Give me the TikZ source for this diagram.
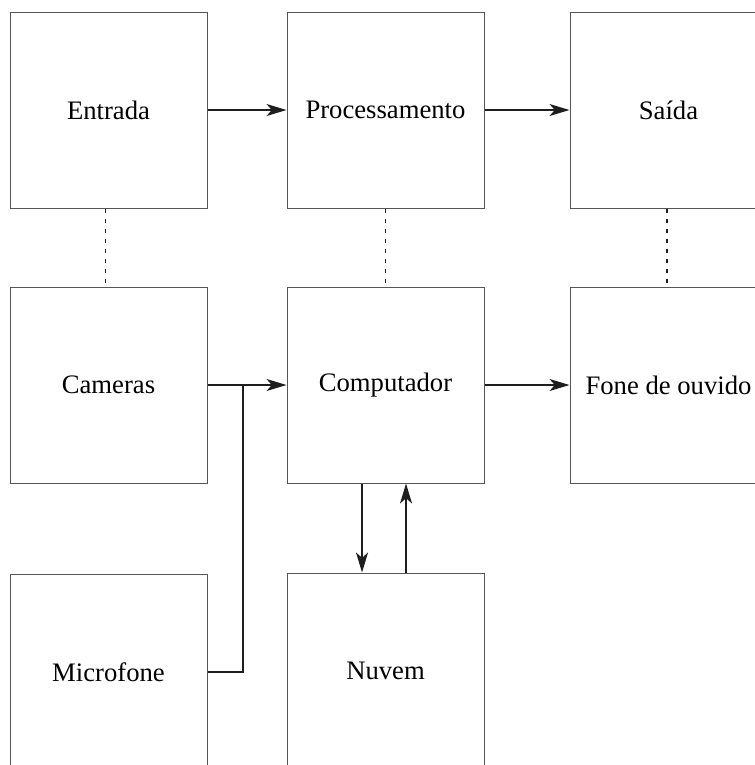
\documentclass[tikz,border=0pt]{standalone}
\usepackage{fontspec}
\setmainfont{Liberation Serif}
\usetikzlibrary{arrows.meta}
\definecolor{boxline}{RGB}{85, 85, 85}
\definecolor{wireline}{RGB}{30, 30, 30}

\begin{document}
\begin{tikzpicture}[x=0.75pt, y=-0.75pt,
    block/.style={draw=boxline, line width=0.75pt, minimum width=147.75pt, minimum height=147pt, font=\fontsize{20}{24}\selectfont, inner sep=0pt},
    flow/.style={draw=wireline, line width=1pt, -{Stealth[length=15pt, width=9pt, inset=4pt]}},
    wire/.style={draw=wireline, line width=1pt},
    link/.style={draw=wireline, line width=1pt, dash pattern=on 3pt off 4.5pt}]
            \clip (0,0) rectangle (755,765);
            \node[block] (input)  at (108.5, 110.0) {Entrada};
            \node[block] (proc)   at (385.5, 110.0) {Processamento};
            \node[block] (output) at (668.5, 110.0) {Saída};
            \node[block] (cam)    at (108.5, 385.0) {Cameras};
            \node[block] (comp)   at (385.5, 385.0) {Computador};
            \node[block] (phone)  at (668.5, 385.0) {Fone de ouvido};
            \node[block] (mic)    at (108.5, 672.0) {Microfone};
            \node[block] (cloud)  at (385.5, 671.0) {Nuvem};
            \coordinate (junc) at (243, 385.0);
            % fluxo de cima
            \draw[flow] (input) -- (proc);
            \draw[flow] (proc) -- (output);
            % ligacoes tracejadas
            \draw[link] ([xshift=-2.5pt]input.south) -- ([xshift=-2.5pt]cam.north);
            \draw[link] (proc.south) -- (comp.north);
            \draw[link] ([xshift=-1.1pt]output.south) -- ([xshift=-1.1pt]phone.north);
            % hardware
            \draw[flow] (cam) -- (comp);
            \draw[wire] (mic.east) -| (junc);
            \draw[flow] (comp) -- (phone);
            \draw[flow] ([xshift=-17.6pt]comp.south) -- ([xshift=-17.6pt]cloud.north);
            \draw[flow] ([xshift=15.4pt]cloud.north) -- ([xshift=15.4pt]comp.south);
\end{tikzpicture}
\end{document}
